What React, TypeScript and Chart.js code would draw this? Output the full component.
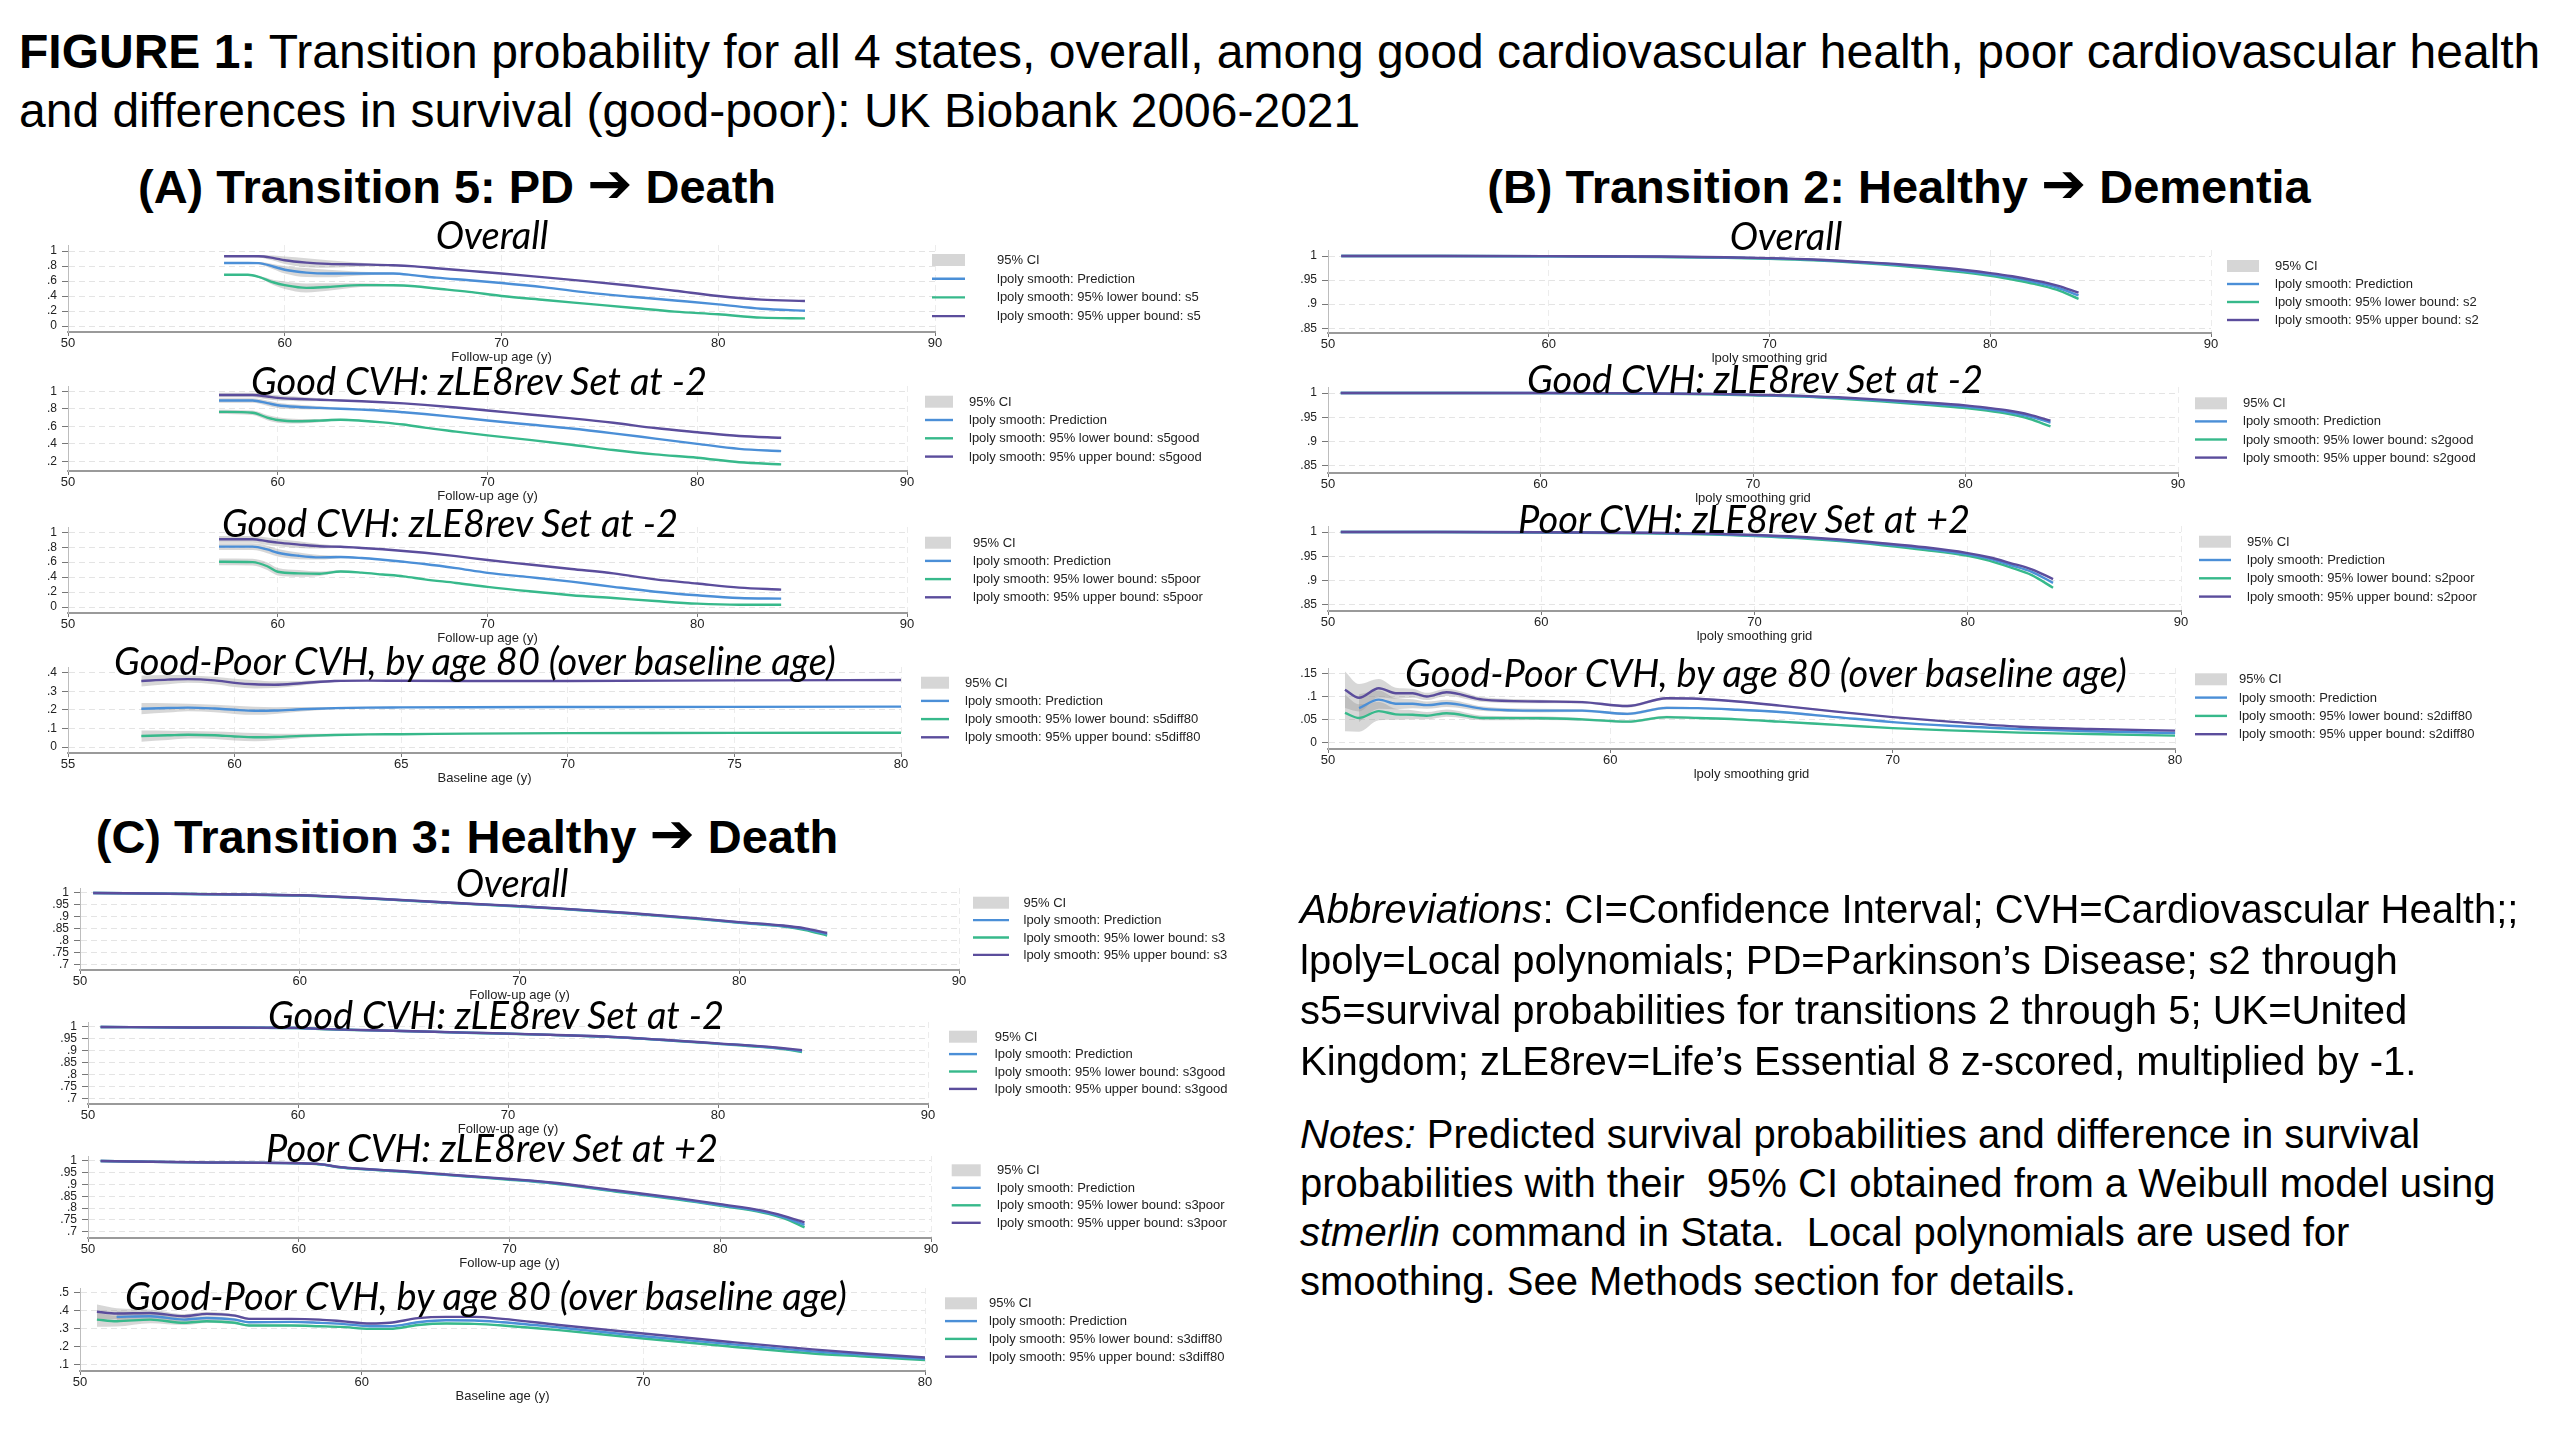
import { useEffect, useRef } from "react";
import { Chart, registerables } from "chart.js";

Chart.register(...registerables);

// ---------------- colours & fonts ----------------
const COLOR_PRED = "#4b8fd7";
const COLOR_LOW = "#37b98b";
const COLOR_UP = "#5b4d9c";
const CI_FILL = "rgba(150,150,150,0.38)";
const CI_KEY = "#d6d6d6";
const SANS = '"Liberation Sans", Arial, Helvetica, sans-serif';
const SUB_FONT = 'Lato, "Open Sans", sans-serif';

// ---------------- tick labels ----------------
const xTicks5090 = [50, 60, 70, 80, 90];
const xTicks5580 = [55, 60, 65, 70, 75, 80];
const xTicks5080 = [50, 60, 70, 80];
const yTicks0to1 = [0, 0.2, 0.4, 0.6, 0.8, 1];
const yTicks02to1 = [0.2, 0.4, 0.6, 0.8, 1];
const yTicksDiffA = [0, 0.1, 0.2, 0.3, 0.4];
const yTicksB = [0.85, 0.9, 0.95, 1];
const yTicksDiffB = [0, 0.05, 0.1, 0.15];
const yTicksC = [0.7, 0.75, 0.8, 0.85, 0.9, 0.95, 1];
const yTicksDiffC = [0.1, 0.2, 0.3, 0.4, 0.5];

// ---------------- Panel A: Transition 5, PD -> Death ----------------
const a1Age = [57.2, 58.3, 58.8, 59.5, 60, 61, 62, 63.5, 65, 66, 67, 68.5, 70, 72, 74, 76, 78, 80, 82, 84];
const a1Up = [0.93, 0.93, 0.93, 0.905, 0.876, 0.845, 0.828, 0.82, 0.81, 0.795, 0.77, 0.735, 0.7, 0.648, 0.595, 0.537, 0.47, 0.4, 0.352, 0.333];
const a1Pred = [0.84, 0.84, 0.838, 0.79, 0.75, 0.712, 0.7, 0.7, 0.7, 0.675, 0.645, 0.61, 0.573, 0.515, 0.445, 0.39, 0.34, 0.289, 0.23, 0.204];
const a1Low = [0.684, 0.684, 0.655, 0.58, 0.545, 0.508, 0.52, 0.545, 0.543, 0.53, 0.5, 0.455, 0.4, 0.347, 0.295, 0.243, 0.192, 0.156, 0.111, 0.102];
const a1Ci = [0.01, 0.01, 0.015, 0.035, 0.05, 0.06, 0.05, 0.025, 0.012, 0.008, 0.006, 0.005, 0.005, 0.005, 0.005, 0.005, 0.005, 0.005, 0.005, 0.005];

const a2Age = [57.2, 58.8, 59.5, 60, 61, 62, 63, 64, 65, 66, 67, 68.5, 70, 72, 74, 76, 78, 80, 82, 84];
const a2Up = [0.958, 0.958, 0.94, 0.924, 0.912, 0.903, 0.895, 0.886, 0.875, 0.862, 0.845, 0.815, 0.78, 0.735, 0.69, 0.64, 0.58, 0.533, 0.49, 0.47];
const a2Pred = [0.894, 0.894, 0.865, 0.84, 0.82, 0.81, 0.8, 0.79, 0.778, 0.76, 0.74, 0.705, 0.666, 0.62, 0.575, 0.52, 0.46, 0.4, 0.343, 0.317];
const a2Low = [0.765, 0.754, 0.7, 0.672, 0.658, 0.665, 0.675, 0.664, 0.645, 0.62, 0.585, 0.54, 0.496, 0.445, 0.39, 0.33, 0.28, 0.242, 0.19, 0.166];
const a2Ci = [0.025, 0.025, 0.03, 0.03, 0.025, 0.018, 0.01, 0.007, 0.006, 0.005, 0.005, 0.005, 0.005, 0.005, 0.005, 0.005, 0.005, 0.005, 0.005, 0.005];

const a3Age = [57.2, 58.8, 59.5, 60, 61, 62, 63, 64, 65, 66, 67, 68.5, 70, 72, 74, 76, 78, 80, 82, 84];
const a3Up = [0.906, 0.906, 0.88, 0.861, 0.835, 0.812, 0.805, 0.79, 0.772, 0.75, 0.725, 0.68, 0.628, 0.568, 0.508, 0.45, 0.37, 0.314, 0.26, 0.233];
const a3Pred = [0.807, 0.807, 0.77, 0.726, 0.685, 0.664, 0.668, 0.655, 0.632, 0.605, 0.575, 0.52, 0.457, 0.4, 0.34, 0.27, 0.205, 0.157, 0.12, 0.112];
const a3Low = [0.605, 0.6, 0.545, 0.471, 0.45, 0.445, 0.475, 0.46, 0.435, 0.41, 0.37, 0.322, 0.269, 0.21, 0.158, 0.12, 0.08, 0.045, 0.031, 0.031];
const a3Ci = [0.045, 0.045, 0.05, 0.05, 0.045, 0.03, 0.015, 0.008, 0.006, 0.005, 0.005, 0.005, 0.005, 0.005, 0.005, 0.005, 0.005, 0.005, 0.005, 0.005];

const a4Age = [57.2, 58, 58.6, 59.4, 60, 60.6, 61.2, 62, 63, 64, 65, 67, 70, 75, 80];
const a4Up = [0.355, 0.362, 0.365, 0.358, 0.345, 0.337, 0.335, 0.343, 0.355, 0.357, 0.356, 0.355, 0.355, 0.358, 0.36];
const a4Pred = [0.206, 0.21, 0.212, 0.207, 0.2, 0.195, 0.196, 0.203, 0.209, 0.212, 0.213, 0.214, 0.215, 0.216, 0.217];
const a4Low = [0.059, 0.063, 0.066, 0.063, 0.057, 0.053, 0.054, 0.06, 0.065, 0.068, 0.069, 0.072, 0.075, 0.076, 0.077];
const a4Ci = [0.03, 0.025, 0.02, 0.02, 0.022, 0.022, 0.018, 0.012, 0.006, 0.004, 0.003, 0.002, 0.002, 0.002, 0.002];

// ---------------- Panel B: Transition 2, Healthy -> Dementia ----------------
const bAge = [50.6, 55, 60, 65, 68, 70, 72, 74, 76, 78, 80, 81, 82, 83, 84];
const b1Up = [1, 1, 0.9997, 0.999, 0.9975, 0.9957, 0.9928, 0.988, 0.9825, 0.975, 0.9645, 0.958, 0.9495, 0.939, 0.924];
const b1Pred = [1, 1, 0.9995, 0.9985, 0.997, 0.995, 0.992, 0.987, 0.981, 0.973, 0.962, 0.955, 0.946, 0.935, 0.918];
const b1Low = [1, 1, 0.9993, 0.998, 0.9963, 0.9943, 0.9912, 0.986, 0.979, 0.97, 0.959, 0.951, 0.942, 0.93, 0.911];

const b2Up = [1, 1, 1, 0.9993, 0.9984, 0.9966, 0.9948, 0.9912, 0.9865, 0.981, 0.9745, 0.9697, 0.964, 0.9555, 0.943];
const b2Pred = [1, 1, 1, 0.999, 0.998, 0.996, 0.994, 0.99, 0.985, 0.979, 0.972, 0.967, 0.961, 0.952, 0.939];
const b2Low = [1, 1, 0.9998, 0.9986, 0.9975, 0.9953, 0.9931, 0.9887, 0.983, 0.9765, 0.969, 0.9638, 0.957, 0.947, 0.931];

const b3Up = [1, 1, 0.9997, 0.9985, 0.9967, 0.994, 0.9903, 0.9845, 0.977, 0.9685, 0.9565, 0.948, 0.936, 0.923, 0.903];
const b3Pred = [1, 1, 0.9995, 0.998, 0.996, 0.993, 0.989, 0.983, 0.975, 0.966, 0.954, 0.945, 0.932, 0.918, 0.895];
const b3Low = [1, 1, 0.9992, 0.9973, 0.9951, 0.9918, 0.9875, 0.9812, 0.9728, 0.963, 0.951, 0.941, 0.927, 0.911, 0.885];

const b4Age = [50.6, 51.1, 51.8, 52.4, 53, 53.5, 54.2, 55.5, 57.5, 59, 60.6, 62, 63.1, 64.5, 66, 68, 70, 72, 74.5, 77, 80];
const b4Up = [0.1146, 0.097, 0.118, 0.107, 0.107, 0.1, 0.109, 0.093, 0.089, 0.0876, 0.079, 0.096, 0.095, 0.089, 0.08, 0.067, 0.055, 0.045, 0.034, 0.029, 0.0255];
const b4Pred = [null, 0.0745, 0.093, 0.084, 0.084, 0.081, 0.085, 0.073, 0.069, 0.069, 0.062, 0.075, 0.0745, 0.071, 0.066, 0.055, 0.044, 0.036, 0.029, 0.024, 0.0204];
const b4Low = [0.064, 0.053, 0.068, 0.061, 0.06, 0.058, 0.0635, 0.053, 0.0526, 0.05, 0.045, 0.055, 0.053, 0.05, 0.045, 0.038, 0.031, 0.026, 0.021, 0.018, 0.0146];
const b4Ci = [0.04, 0.03, 0.02, 0.012, 0.01, 0.008, 0.008, 0.005, 0.004, 0.003, 0.003, 0.003, 0.002, 0.002, 0.002, 0.002, 0.001, 0.001, 0.001, 0.001, 0.001];

// ---------------- Panel C: Transition 3, Healthy -> Death ----------------
const cAge = [50.6, 55, 60, 61, 63, 65, 68, 70, 72, 75, 78, 80, 82, 83, 84];
const c1Up = [1, 0.9962, 0.9905, 0.9875, 0.9787, 0.9688, 0.9538, 0.9448, 0.9338, 0.916, 0.8943, 0.8775, 0.863, 0.851, 0.832];
const c1Pred = [1, 0.996, 0.99, 0.987, 0.978, 0.968, 0.953, 0.944, 0.933, 0.915, 0.893, 0.876, 0.861, 0.848, 0.827];
const c1Low = [1, 0.9958, 0.9895, 0.9865, 0.9773, 0.9672, 0.9522, 0.9432, 0.9322, 0.914, 0.8917, 0.8745, 0.859, 0.844, 0.821];

const c2Up = [1, 0.998, 0.9962, 0.9922, 0.9872, 0.9832, 0.9763, 0.9723, 0.9673, 0.9585, 0.9428, 0.931, 0.9195, 0.9118, 0.9025];
const c2Pred = [1, 0.998, 0.996, 0.992, 0.987, 0.983, 0.976, 0.972, 0.967, 0.958, 0.942, 0.93, 0.918, 0.91, 0.899];
const c2Low = [1, 0.998, 0.9958, 0.9918, 0.9868, 0.9828, 0.9757, 0.9717, 0.9667, 0.9575, 0.9412, 0.929, 0.9165, 0.908, 0.895];

const c3Age = [50.6, 55, 60, 61, 62, 63, 65, 68, 70, 72, 75, 78, 80, 82, 83, 84];
const c3Up = [1, 0.9942, 0.9903, 0.9865, 0.9738, 0.9668, 0.956, 0.9362, 0.9235, 0.9088, 0.8755, 0.842, 0.8165, 0.789, 0.767, 0.739];
const c3Pred = [1, 0.994, 0.99, 0.986, 0.973, 0.966, 0.955, 0.935, 0.922, 0.907, 0.873, 0.839, 0.813, 0.785, 0.762, 0.729];
const c3Low = [1, 0.9938, 0.9897, 0.9855, 0.9722, 0.9652, 0.954, 0.9338, 0.9205, 0.905, 0.8705, 0.836, 0.8095, 0.781, 0.757, 0.718];

const c4Age = [50.6, 51.3, 52.5, 53.7, 54.5, 55.5, 56, 57.5, 58.5, 59.3, 60.3, 61, 62, 63, 64, 65, 67, 70, 73, 76, 78, 80];
const c4Up = [0.395, 0.385, 0.388, 0.37, 0.383, 0.373, 0.355, 0.355, 0.351, 0.342, 0.329, 0.333, 0.359, 0.366, 0.366, 0.355, 0.321, 0.273, 0.227, 0.184, 0.16, 0.139];
const c4Pred = [null, 0.366, 0.37, 0.351, 0.36, 0.351, 0.336, 0.338, 0.333, 0.327, 0.314, 0.314, 0.336, 0.347, 0.346, 0.336, 0.307, 0.258, 0.215, 0.173, 0.152, 0.132];
const c4Low = [0.351, 0.342, 0.351, 0.333, 0.342, 0.333, 0.318, 0.318, 0.314, 0.31, 0.299, 0.299, 0.321, 0.329, 0.327, 0.318, 0.292, 0.245, 0.202, 0.161, 0.143, 0.124];
const c4Ci = [0.04, 0.03, 0.02, 0.012, 0.01, 0.008, 0.006, 0.005, 0.005, 0.005, 0.005, 0.004, 0.004, 0.004, 0.003, 0.003, 0.003, 0.002, 0.002, 0.002, 0.002, 0.002];

// ---------------- chart specs (data refs + layout) ----------------
type Box = {
  x0: number; x1: number; top: number; bottom: number;
  legX: number; legW: number; legTX: number; legY: number; legStep: number;
};
type Spec = {
  age: number[]; up: (number | null)[]; pred: (number | null)[]; low: (number | null)[]; ci?: number[];
  xMin: number; xMax: number; xTicks: number[]; yMin: number; yMax: number; yTicks: number[];
  xTitle: string; suffix: string; box: Box;
};

const FOLLOW = "Follow-up age (y)";
const GRID = "lpoly smoothing grid";
const BASE = "Baseline age (y)";

const specs: Spec[] = [
  { age: a1Age, up: a1Up, pred: a1Pred, low: a1Low, ci: a1Ci, xMin: 50, xMax: 90, xTicks: xTicks5090, yMin: -0.08, yMax: 1.08, yTicks: yTicks0to1, xTitle: FOLLOW, suffix: "s5",
    box: { x0: 68, x1: 934.5, top: 244.7, bottom: 331.7, legX: 932, legW: 33, legTX: 997, legY: 260, legStep: 18.7 } },
  { age: a2Age, up: a2Up, pred: a2Pred, low: a2Low, ci: a2Ci, xMin: 50, xMax: 90, xTicks: xTicks5090, yMin: 0.09, yMax: 1.06, yTicks: yTicks02to1, xTitle: FOLLOW, suffix: "s5good",
    box: { x0: 68, x1: 907.3, top: 386.4, bottom: 471.7, legX: 925, legW: 28, legTX: 969, legY: 401.7, legStep: 18.3 } },
  { age: a3Age, up: a3Up, pred: a3Pred, low: a3Low, ci: a3Ci, xMin: 50, xMax: 90, xTicks: xTicks5090, yMin: -0.08, yMax: 1.07, yTicks: yTicks0to1, xTitle: FOLLOW, suffix: "s5poor",
    box: { x0: 68, x1: 906.5, top: 527.1, bottom: 612.7, legX: 925, legW: 26, legTX: 973, legY: 542.7, legStep: 18.2 } },
  { age: a4Age, up: a4Up, pred: a4Pred, low: a4Low, ci: a4Ci, xMin: 55, xMax: 80, xTicks: xTicks5580, yMin: -0.032, yMax: 0.43, yTicks: yTicksDiffA, xTitle: BASE, suffix: "s5diff80",
    box: { x0: 68, x1: 901, top: 666.7, bottom: 752.7, legX: 921, legW: 28, legTX: 965, legY: 682.7, legStep: 18.2 } },
  { age: bAge, up: b1Up, pred: b1Pred, low: b1Low, xMin: 50, xMax: 90, xTicks: xTicks5090, yMin: 0.84, yMax: 1.0125, yTicks: yTicksB, xTitle: GRID, suffix: "s2",
    box: { x0: 1328, x1: 2211, top: 250, bottom: 333.1, legX: 2227, legW: 32, legTX: 2275, legY: 266, legStep: 18 } },
  { age: bAge, up: b2Up, pred: b2Pred, low: b2Low, xMin: 50, xMax: 90, xTicks: xTicks5090, yMin: 0.835, yMax: 1.0125, yTicks: yTicksB, xTitle: GRID, suffix: "s2good",
    box: { x0: 1328, x1: 2177.7, top: 387.2, bottom: 473.3, legX: 2195, legW: 32, legTX: 2243, legY: 403.3, legStep: 18.1 } },
  { age: bAge, up: b3Up, pred: b3Pred, low: b3Low, xMin: 50, xMax: 90, xTicks: xTicks5090, yMin: 0.837, yMax: 1.0125, yTicks: yTicksB, xTitle: GRID, suffix: "s2poor",
    box: { x0: 1328, x1: 2181, top: 526, bottom: 610.6, legX: 2199, legW: 32, legTX: 2247, legY: 541.7, legStep: 18.3 } },
  { age: b4Age, up: b4Up, pred: b4Pred, low: b4Low, ci: b4Ci, xMin: 50, xMax: 80, xTicks: xTicks5080, yMin: -0.0146, yMax: 0.162, yTicks: yTicksDiffB, xTitle: GRID, suffix: "s2diff80",
    box: { x0: 1328, x1: 2175.3, top: 667.8, bottom: 748.4, legX: 2195, legW: 32, legTX: 2239, legY: 679.3, legStep: 18.3 } },
  { age: cAge, up: c1Up, pred: c1Pred, low: c1Low, xMin: 50, xMax: 90, xTicks: xTicks5090, yMin: 0.676, yMax: 1.021, yTicks: yTicksC, xTitle: FOLLOW, suffix: "s3",
    box: { x0: 80, x1: 958.9, top: 888.3, bottom: 970, legX: 973, legW: 36, legTX: 1023.5, legY: 902.7, legStep: 17.4 } },
  { age: cAge, up: c2Up, pred: c2Pred, low: c2Low, xMin: 50, xMax: 90, xTicks: xTicks5090, yMin: 0.676, yMax: 1.021, yTicks: yTicksC, xTitle: FOLLOW, suffix: "s3good",
    box: { x0: 88, x1: 927.8, top: 1021.7, bottom: 1103.4, legX: 949, legW: 28, legTX: 994.8, legY: 1036.7, legStep: 17.4 } },
  { age: c3Age, up: c3Up, pred: c3Pred, low: c3Low, xMin: 50, xMax: 90, xTicks: xTicks5090, yMin: 0.673, yMax: 1.021, yTicks: yTicksC, xTitle: FOLLOW, suffix: "s3poor",
    box: { x0: 88, x1: 931, top: 1156.1, bottom: 1237.6, legX: 951.7, legW: 29, legTX: 997, legY: 1170.3, legStep: 17.5 } },
  { age: c4Age, up: c4Up, pred: c4Pred, low: c4Low, ci: c4Ci, xMin: 50, xMax: 80, xTicks: xTicks5080, yMin: 0.063, yMax: 0.528, yTicks: yTicksDiffC, xTitle: BASE, suffix: "s3diff80",
    box: { x0: 80, x1: 925.4, top: 1288.3, bottom: 1371.6, legX: 945, legW: 32, legTX: 989, legY: 1303.3, legStep: 17.8 } },
];

// subtitles: [text, centerX, centerY]
const subtitles: [string, number, number][] = [
  ["Overall", 492, 234],
  ["Good CVH: zLE8rev Set at -2", 479, 380],
  ["Good CVH: zLE8rev Set at -2", 450, 522],
  ["Good-Poor CVH, by age 80 (over baseline age)", 475, 660],
  ["Overall", 1786, 235],
  ["Good CVH: zLE8rev Set at -2", 1755, 378],
  ["Poor CVH: zLE8rev Set at +2", 1744, 518],
  ["Good-Poor CVH, by age 80 (over baseline age)", 1766, 672],
  ["Overall", 512, 882],
  ["Good CVH: zLE8rev Set at -2", 496, 1014],
  ["Poor CVH: zLE8rev Set at +2", 492, 1147],
  ["Good-Poor CVH, by age 80 (over baseline age)", 486, 1295],
];

// headings: [before arrow, after arrow, centerX, centerY]
const headings: [string, string, number, number][] = [
  ["(A) Transition 5: PD ", " Death", 457, 186],
  ["(B) Transition 2: Healthy ", " Dementia", 1899, 186],
  ["(C) Transition 3: Healthy ", " Death", 467, 836],
];

// ---------------- chart component ----------------
const YW = 46;
const PT = 14;
const XH = 34;
const RW = 360;

const fmtTick = (v: number) => {
  const s = String(+v.toFixed(3));
  return s.startsWith("0.") ? s.slice(1) : s;
};

function StataChart({ spec }: { spec: Spec }) {
  const ref = useRef<HTMLCanvasElement>(null);
  const b = spec.box;
  const left = Math.round(b.x0 - YW);
  const top = Math.round(b.top - PT);
  const width = Math.round(b.x1 - b.x0) + YW + RW;
  const height = Math.round(b.bottom - b.top) + PT + XH;

  useEffect(() => {
    if (!ref.current) return;
    const pts = (ys: (number | null)[], off: number[] | null, sign: number) =>
      spec.age.map((x, i) => ({
        x,
        y: ys[i] == null ? null : (ys[i] as number) + (off ? sign * off[i] : 0),
      }));
    const lines = [
      { label: "upper", data: pts(spec.up, null, 0), borderColor: COLOR_UP },
      { label: "pred", data: pts(spec.pred, null, 0), borderColor: COLOR_PRED },
      { label: "lower", data: pts(spec.low, null, 0), borderColor: COLOR_LOW },
    ].map((d) => ({ ...d, borderWidth: 2.4, pointRadius: 0, fill: false, cubicInterpolationMode: "monotone" as const }));
    const bands: any[] = [];
    if (spec.ci) {
      for (const s of [spec.up, spec.pred, spec.low]) {
        bands.push({ data: pts(s, spec.ci, -1), borderWidth: 0, borderColor: "transparent", pointRadius: 0, fill: false, cubicInterpolationMode: "monotone" });
        bands.push({ data: pts(s, spec.ci, 1), borderWidth: 0, borderColor: "transparent", pointRadius: 0, fill: "-1", backgroundColor: CI_FILL, cubicInterpolationMode: "monotone" });
      }
    }
    const labels = [
      "95% CI",
      "lpoly smooth: Prediction",
      `lpoly smooth: 95% lower bound: ${spec.suffix}`,
      `lpoly smooth: 95% upper bound: ${spec.suffix}`,
    ];
    const keyColors = [COLOR_PRED, COLOR_LOW, COLOR_UP];
    const legendPlugin = {
      id: "stataLegend",
      afterDraw(chart: any) {
        const ctx = chart.ctx as CanvasRenderingContext2D;
        ctx.save();
        ctx.font = `13px ${SANS}`;
        ctx.textBaseline = "middle";
        ctx.textAlign = "left";
        labels.forEach((lab, i) => {
          const y = b.legY + i * b.legStep - top;
          const x = b.legX - left;
          if (i === 0) {
            ctx.fillStyle = CI_KEY;
            ctx.fillRect(x, y - 6, b.legW, 12);
          } else {
            ctx.strokeStyle = keyColors[i - 1];
            ctx.lineWidth = 2.4;
            ctx.beginPath();
            ctx.moveTo(x, y);
            ctx.lineTo(x + b.legW, y);
            ctx.stroke();
          }
          ctx.fillStyle = "#222";
          ctx.fillText(lab, b.legTX - left, y + 0.5);
        });
        ctx.restore();
      },
    };
    const chart = new Chart(ref.current, {
      type: "line",
      data: { datasets: [...lines, ...bands] as any },
      options: {
        responsive: false,
        animation: false,
        devicePixelRatio: 1,
        layout: { padding: { top: PT, right: RW, left: 0, bottom: 0 } },
        plugins: { legend: { display: false }, tooltip: { enabled: false } },
        scales: {
          x: {
            type: "linear",
            min: spec.xMin,
            max: spec.xMax,
            afterBuildTicks: (s: any) => {
              s.ticks = spec.xTicks.map((v) => ({ value: v }));
            },
            afterFit: (s: any) => {
              s.height = XH;
            },
            ticks: { color: "#222", font: { family: SANS, size: 13 }, padding: 0, maxRotation: 0, autoSkip: false, callback: (v: any) => String(v) },
            grid: { color: "#ececec", lineWidth: 1, tickColor: "#777", tickLength: 4, tickWidth: 1, tickBorderDash: [] },
            border: { color: "#9a9a9a", width: 2, dash: [6, 4] },
            title: { display: true, text: spec.xTitle, color: "#222", font: { family: SANS, size: 13 }, padding: { top: 0, bottom: 1 } },
          },
          y: {
            type: "linear",
            position: "left",
            min: spec.yMin,
            max: spec.yMax,
            afterBuildTicks: (s: any) => {
              s.ticks = spec.yTicks.map((v) => ({ value: v }));
            },
            afterFit: (s: any) => {
              s.width = YW;
            },
            ticks: { color: "#222", font: { family: SANS, size: 12, lineHeight: 1 }, padding: 5, autoSkip: false, callback: (v: any) => fmtTick(Number(v)) },
            grid: { color: "#e4e4e4", lineWidth: 1, tickColor: "#777", tickLength: 6, tickWidth: 1, tickBorderDash: [] },
            border: { color: "#bdbdbd", width: 1, dash: [6, 4] },
          },
        },
      },
      plugins: [legendPlugin],
    });
    return () => chart.destroy();
  }, []);

  return (
    <canvas
      ref={ref}
      width={width}
      height={height}
      style={{ position: "absolute", left, top, width, height, zIndex: 1 }}
    />
  );
}

function Centered({ x, y, children, style }: { x: number; y: number; children: any; style: any }) {
  return (
    <div
      style={{
        position: "absolute",
        left: x,
        top: y,
        transform: "translate(-50%, -50%)",
        whiteSpace: "pre",
        lineHeight: 1,
        zIndex: 2,
        color: "#000",
        ...style,
      }}
    >
      {children}
    </div>
  );
}

export default function App() {
  return (
    <div
      style={{
        position: "absolute",
        left: 0,
        top: 0,
        width: 2560,
        height: 1440,
        background: "#fff",
        overflow: "hidden",
        fontFamily: SANS,
      }}
    >
      <div style={{ position: "absolute", left: 19, top: 22, font: `48px ${SANS}`, lineHeight: "59px", whiteSpace: "pre", color: "#000", zIndex: 2 }}>
        <b>FIGURE 1:</b>
        {" Transition probability for all 4 states, overall, among good cardiovascular health, poor cardiovascular health\nand differences in survival (good-poor): UK Biobank 2006-2021"}
      </div>

      {headings.map(([a, c, x, y], i) => (
        <Centered key={"h" + i} x={x} y={y} style={{ font: `bold 47px ${SANS}` }}>
          {a}
          <span style={{ fontFamily: '"DejaVu Sans", sans-serif', fontWeight: 400, fontSize: 54, lineHeight: 0, position: "relative", top: -1 }}>{"\u2794"}</span>
          {c}
        </Centered>
      ))}

      {specs.map((s, i) => (
        <StataChart key={"c" + i} spec={s} />
      ))}

      {subtitles.map(([t, x, y], i) => (
        <Centered key={"s" + i} x={x} y={y} style={{ font: `italic 38px ${SUB_FONT}` }}>
          {t}
        </Centered>
      ))}

      <div style={{ position: "absolute", left: 1300, top: 884, font: `40px ${SANS}`, lineHeight: "50.5px", whiteSpace: "pre", color: "#000", zIndex: 2 }}>
        <i>Abbreviations</i>
        {": CI=Confidence Interval; CVH=Cardiovascular Health;;\nlpoly=Local polynomials; PD=Parkinson\u2019s Disease; s2 through\ns5=survival probabilities for transitions 2 through 5; UK=United\nKingdom; zLE8rev=Life\u2019s Essential 8 z-scored, multiplied by -1."}
      </div>
      <div style={{ position: "absolute", left: 1300, top: 1110, font: `40px ${SANS}`, lineHeight: "49px", whiteSpace: "pre", color: "#000", zIndex: 2 }}>
        <i>Notes:</i>
        {" Predicted survival probabilities and difference in survival\nprobabilities with their  95% CI obtained from a Weibull model using\n"}
        <i>stmerlin</i>
        {" command in Stata.  Local polynomials are used for\nsmoothing. See Methods section for details."}
      </div>
    </div>
  );
}
